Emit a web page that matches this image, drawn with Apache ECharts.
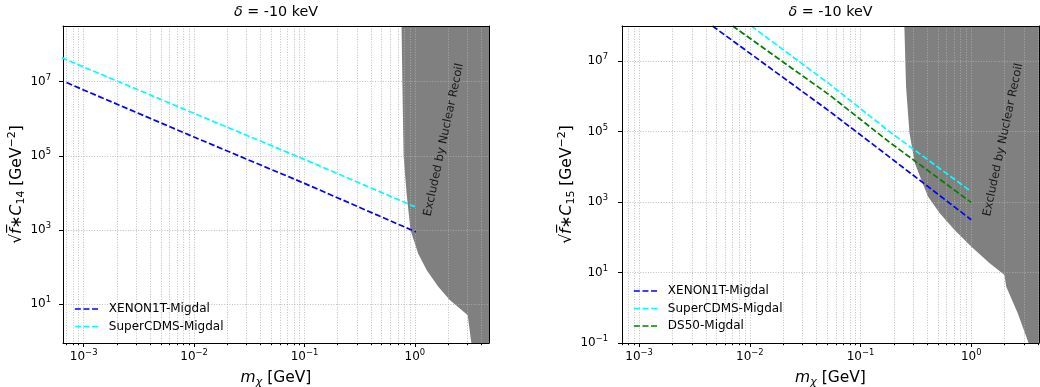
<!DOCTYPE html>
<html>
<head>
<meta charset="utf-8">
<title>Migdal limits</title>
<script src="https://cdn.jsdelivr.net/npm/echarts@6/dist/echarts.min.js"></script>
<style>
  html, body { margin: 0; padding: 0; background: #fff; }
  #main { width: 1040px; height: 387px; }
</style>
</head>
<body>
<div id="main"></div>
<script>
var FONT = 'DejaVu Sans';
var lg = Math.log10;

// left panel: sqrt(f)*C14 limits
var xenonMassL = [7.0e-4, 1e-3, 1e-2, 1e-1, 1.02];
var xenonC14 = [9.5e6, 6.0e6, 3.2e5, 1.8e4, 880];
var cdmsMassL = [6.3e-4, 1e-3, 1e-2, 1e-1, 1.0];
var cdmsC14 = [4.5e7, 2.5e7, 1.4e6, 8.0e4, 4.2e3];
var nrMassL = [0.757, 0.77, 0.79, 0.84, 0.89, 0.91, 1.07, 1.28, 1.63, 2.08, 2.65, 3.01, 3.05, 3.22, 3.27, 5.0];
var nrC14 = [3.2e8, 1e7, 1e5, 1e4, 2e3, 1e3, 230, 81, 29, 12.6, 6.8, 4.95, 3.6, 1.05, 0.8, 0.8];

// right panel: sqrt(f)*C15 limits
var xenonMassR = [4.6e-3, 5.3e-2, 0.183, 1.0];
var xenonC15 = [1e8, 3.7e5, 1.9e4, 316];
var cdmsMassR = [1.03e-2, 5.3e-2, 0.183, 1.0];
var cdmsC15 = [1e8, 2.2e6, 1.0e5, 2.0e3];
var ds50MassR = [7.0e-3, 5.3e-2, 0.183, 1.0];
var ds50C15 = [1e8, 1.07e6, 5.0e4, 980];
var nrMassR = [0.249, 0.258, 0.277, 0.31, 0.354, 0.407, 0.518, 0.708, 1.0, 1.46, 2.0, 2.07, 2.63, 3.3, 5.0];
var nrC15 = [1e8, 1.9e6, 9.1e4, 1.26e4, 4.3e3, 1.45e3, 490, 162, 55, 18.6, 8.5, 4.0, 0.71, 0.1, 0.1];

// axes
var massRangeL = [6.5e-4, 4.69];
var c14Range = [0.88, 3.2e8];
var massRangeR = [7.0e-4, 4.1];
var c15Range = [0.1, 1e8];
var massTicks = [1e-3, 1e-2, 1e-1, 1];
var c14Ticks = [10, 1e3, 1e5, 1e7];
var c15Ticks = [0.1, 10, 1e3, 1e5, 1e7];
var noteText = 'Excluded by Nuclear Recoil';

var massMinor = [];
for (var d = -4; d <= 0; d++) {
  for (var k = 2; k <= 9; k++) massMinor.push(lg(k * Math.pow(10, d)));
}

function pairs(xs, ys) {
  return xs.map(function (x, i) { return [lg(x), lg(ys[i])]; });
}

function expLabel(v) {
  var e = Math.round(v);
  return '{b|10}{s|' + (e < 0 ? '\u2212' + (-e) : e) + '}';
}

var black = { color: '#000', width: 1 };
var gridStyle = { color: '#b0b0b0', width: 0.8, type: [1, 1.6] };
var labelRich = {
  b: { fontFamily: FONT, fontSize: 12, lineHeight: 16, color: '#000' },
  s: { fontFamily: FONT, fontSize: 8.4, lineHeight: 8, verticalAlign: 'top', color: '#000' }
};
var nameStyle = {
  fontFamily: FONT, fontSize: 15.5, color: '#000', lineHeight: 20,
  rich: {
    i: { fontFamily: FONT, fontSize: 15.5, fontStyle: 'italic', color: '#000', lineHeight: 20 },
    sub: { fontFamily: FONT, fontSize: 11, fontStyle: 'normal', verticalAlign: 'bottom', lineHeight: 11, color: '#000' },
    subi: { fontFamily: FONT, fontSize: 11, fontStyle: 'italic', verticalAlign: 'bottom', lineHeight: 11, color: '#000' },
    sup: { fontFamily: FONT, fontSize: 11, verticalAlign: 'top', lineHeight: 11, color: '#000' }
  }
};

function massAxes(g, range) {
  var lo = lg(range[0]), hi = lg(range[1]);
  return [
    {
      type: 'value', gridIndex: g, position: 'bottom', min: lo, max: hi, z: 2,
      name: '{i|m}{subi|\u03c7} [GeV]', nameLocation: 'middle', nameGap: 22, nameTextStyle: nameStyle,
      axisLine: { show: true, onZero: false, lineStyle: black },
      axisTick: { show: true, customValues: massTicks.map(lg), length: 4, lineStyle: black },
      axisLabel: { customValues: massTicks.map(lg), formatter: expLabel, margin: 6, rich: labelRich },
      splitLine: { show: true, lineStyle: gridStyle }
    },
    {
      type: 'value', gridIndex: g, position: 'bottom', min: lo, max: hi, z: 2,
      axisLine: { show: false, onZero: false },
      axisTick: { show: true, customValues: massMinor, length: 2.2, lineStyle: black },
      axisLabel: { show: false },
      splitLine: { show: true, lineStyle: gridStyle }
    },
    {
      type: 'value', gridIndex: g, position: 'top', min: lo, max: hi, z: 5,
      axisLine: { show: true, onZero: false, lineStyle: black },
      axisTick: { show: false }, axisLabel: { show: false }, splitLine: { show: false }
    }
  ];
}

function coupAxes(g, range, ticks, name, gap, margin) {
  var lo = lg(range[0]), hi = lg(range[1]);
  return [
    {
      type: 'value', gridIndex: g, position: 'left', min: lo, max: hi, z: 2,
      name: name, nameLocation: 'middle', nameRotate: 90, nameGap: gap, nameTextStyle: nameStyle,
      axisLine: { show: true, onZero: false, lineStyle: black },
      axisTick: { show: true, customValues: ticks.map(lg), length: 4, lineStyle: black },
      axisLabel: { customValues: ticks.map(lg), formatter: expLabel, margin: margin, rich: labelRich },
      splitLine: { show: true, lineStyle: gridStyle }
    },
    {
      type: 'value', gridIndex: g, position: 'right', min: lo, max: hi, z: 5,
      axisLine: { show: true, onZero: false, lineStyle: black },
      axisTick: { show: false }, axisLabel: { show: false }, splitLine: { show: false }
    }
  ];
}

function dashed(name, color, xs, ys, xi, yi) {
  return {
    type: 'line', name: name, xAxisIndex: xi, yAxisIndex: yi, data: pairs(xs, ys),
    symbol: 'none', z: 3, silent: true,
    lineStyle: { color: color, width: 1.7, type: [6, 2.6] }, itemStyle: { color: color }
  };
}

function region(xs, ys, xi, yi) {
  return {
    type: 'line', xAxisIndex: xi, yAxisIndex: yi, data: pairs(xs, ys),
    symbol: 'none', z: 1, silent: true,
    lineStyle: { width: 0 },
    areaStyle: { color: '#808080', opacity: 1, origin: 'end' }
  };
}

function note(pos, xi, yi) {
  return {
    type: 'scatter', xAxisIndex: xi, yAxisIndex: yi, data: [[lg(pos[0]), lg(pos[1])]],
    symbolSize: 0, z: 4, silent: true,
    label: { show: true, position: 'inside', formatter: noteText, rotate: 78,
      fontFamily: FONT, fontSize: 11.5, color: '#000' }
  };
}

function legend(names, left, top) {
  return {
    data: names, orient: 'vertical', left: left, top: top, padding: 0,
    itemWidth: 25, itemHeight: 14, itemGap: 3.5, selectedMode: false,
    itemStyle: { opacity: 0 },
    lineStyle: { width: 1.7 },
    textStyle: { fontFamily: FONT, fontSize: 12, color: '#000', lineHeight: 14, padding: [0, 0, 0, 4] }
  };
}

function title(cx) {
  var t = { fontFamily: FONT, fontSize: 14.3, color: '#000', lineHeight: 17 };
  return {
    text: '{i|\u03b4}{r| = -10 keV}', left: cx, top: 3.5, textAlign: 'center', padding: 0,
    textStyle: { fontFamily: FONT, fontSize: 14.3, fontWeight: 'normal', color: '#000',
      rich: { r: t, i: echarts.util.extend({ fontStyle: 'italic' }, t) } }
  };
}

var chart = echarts.init(document.getElementById('main'));
chart.setOption({
  animation: false,
  backgroundColor: '#fff',
  title: [title(276), title(830.5)],
  legend: [
    legend(['XENON1T-Migdal', 'SuperCDMS-Migdal'], 74, 302),
    legend(['XENON1T-Migdal', 'SuperCDMS-Migdal', 'DS50-Migdal'], 633, 284)
  ],
  grid: [
    { left: 63, top: 26, width: 426, height: 317, containLabel: false, outerBoundsMode: 'none' },
    { left: 622, top: 26, width: 417, height: 317, containLabel: false, outerBoundsMode: 'none' }
  ],
  xAxis: massAxes(0, massRangeL).concat(massAxes(1, massRangeR)),
  yAxis: coupAxes(0, c14Range, c14Ticks,
      '\u221a{i|f\u0305}\u2217{i|C}{sub|14} [GeV{sup|\u22122}]', 34, 12)
    .concat(coupAxes(1, c15Range, c15Ticks,
      '\u221a{i|f\u0305}\u2217{i|C}{sub|15} [GeV{sup|\u22122}]', 42, 14)),
  series: [
    region(nrMassL, nrC14, 0, 0),
    dashed('XENON1T-Migdal', '#0000ff', xenonMassL, xenonC14, 0, 0),
    dashed('SuperCDMS-Migdal', '#00ffff', cdmsMassL, cdmsC14, 0, 0),
    note([1.83, 2.7e5], 0, 0),
    region(nrMassR, nrC15, 3, 2),
    dashed('XENON1T-Migdal', '#0000ff', xenonMassR, xenonC15, 3, 2),
    dashed('SuperCDMS-Migdal', '#00ffff', cdmsMassR, cdmsC15, 3, 2),
    dashed('DS50-Migdal', '#008000', ds50MassR, ds50C15, 3, 2),
    note([1.95, 5.9e4], 3, 2)
  ]
});
</script>
</body>
</html>
